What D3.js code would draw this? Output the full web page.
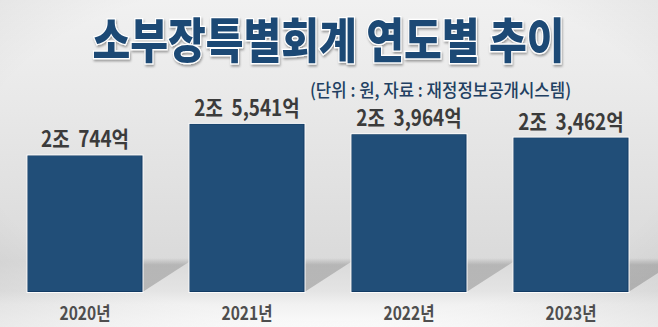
<!DOCTYPE html>
<html>
<head>
<meta charset="utf-8">
<script src="https://cdn.jsdelivr.net/npm/d3@7"></script>
<style>
  html, body { margin: 0; padding: 0; background: #fff; }
  svg { display: block; }
  text { font-family: "Noto Sans CJK KR", "Noto Sans", sans-serif; }
</style>
</head>
<body>
<svg id="chart"></svg>
<script>
// data (단위: 억원)
var years = ["2020년", "2021년", "2022년", "2023년"],
  values = [20744, 25541, 23964, 23462],
  title = "소부장특별회계 연도별 추이",
  subtitle = "(단위 : 원, 자료 : 재정정보공개시스템)";

var width = 658, height = 327;
var svg = d3.select("#chart").attr("width", width).attr("height", height);
var defs = svg.append("defs");

// background: grey wall, lighter floor
var bg = defs.append("linearGradient").attr("id", "bg")
  .attr("x1", 0).attr("y1", 0).attr("x2", 0).attr("y2", 1);
[[0, "#f1f1f1"], [0.3, "#e9e9e9"], [0.6, "#e0e0e0"], [0.8, "#dadada"],
 [0.89, "#e4e4e4"], [0.93, "#f1f1f1"], [1, "#fbfbfb"]].forEach(function(s) {
  bg.append("stop").attr("offset", s[0]).attr("stop-color", s[1]);
});
svg.append("rect").attr("width", width).attr("height", height).attr("fill", "url(#bg)");

// soft vignette on the edges
var vig = defs.append("radialGradient").attr("id", "vig")
  .attr("cx", 0.5).attr("cy", 0.45).attr("r", 0.75);
vig.append("stop").attr("offset", 0.7).attr("stop-color", "#000").attr("stop-opacity", 0);
vig.append("stop").attr("offset", 1).attr("stop-color", "#000").attr("stop-opacity", 0.07);
svg.append("rect").attr("width", width).attr("height", height).attr("fill", "url(#vig)");

var shade = defs.append("linearGradient").attr("id", "shade")
  .attr("x1", 0).attr("y1", 0).attr("x2", 0).attr("y2", 1);
shade.append("stop").attr("offset", 0).attr("stop-color", "#000").attr("stop-opacity", 0);
shade.append("stop").attr("offset", 0.2).attr("stop-color", "#000").attr("stop-opacity", 0.17);
shade.append("stop").attr("offset", 1).attr("stop-color", "#000").attr("stop-opacity", 0.2);

var glow = defs.append("filter").attr("id", "tshadow")
  .attr("filterUnits", "userSpaceOnUse")
  .attr("x", -400).attr("y", -60).attr("width", 800).attr("height", 100);
glow.append("feDropShadow").attr("dx", 1).attr("dy", 2).attr("stdDeviation", 1.2)
  .attr("flood-color", "#000").attr("flood-opacity", 0.35);

// scales
var x = d3.scaleBand().domain(years).range([4, 652])
  .paddingInner(0.29).paddingOuter(0.145);
var y = d3.scaleLinear().domain([0, 26000]).range([292, 120.9]);

function label(v) {
  var jo = Math.floor(v / 10000), eok = v % 10000;
  return jo + "조  " + d3.format(",")(eok) + "억";
}

// shadows behind bars
svg.selectAll(".shadow").data(years).join("path")
  .attr("class", "shadow")
  .attr("fill", "url(#shade)")
  .attr("d", function(d) {
    var r = x(d) + x.bandwidth(), b = y(0);
    return "M" + r + "," + (b - 34) + "L" + (r + 48) + "," + (b - 34) +
      "L" + (r + 48) + "," + (b - 31) + "L" + r + "," + b + "Z";
  });

// bars
var bars = svg.selectAll(".bar").data(values).join("g").attr("class", "bar");
bars.append("rect")
  .attr("x", function(d, i) { return x(years[i]) - 1; })
  .attr("y", function(d) { return y(d) - 1; })
  .attr("width", x.bandwidth() + 2)
  .attr("height", function(d) { return y(0) - y(d) + 2; })
  .attr("fill", "#fbfbfb");
bars.append("rect")
  .attr("x", function(d, i) { return x(years[i]); })
  .attr("y", function(d) { return y(d); })
  .attr("width", x.bandwidth())
  .attr("height", function(d) { return y(0) - y(d); })
  .attr("fill", "#123a63");
bars.append("rect")
  .attr("x", function(d, i) { return x(years[i]) + 0.5; })
  .attr("y", function(d) { return y(d) + 0.5; })
  .attr("width", x.bandwidth() - 1.5)
  .attr("height", function(d) { return y(0) - y(d) - 1.5; })
  .attr("fill", "#214e78");

// value labels
svg.selectAll(".val").data(values).join("g")
  .attr("class", "val")
  .attr("transform", function(d, i) {
    return "translate(" + (x(years[i]) + x.bandwidth() / 2) + "," + (y(d) - 8) + ") scale(0.86,1)";
  })
  .append("text")
  .attr("text-anchor", "middle")
  .attr("font-size", 22)
  .attr("font-weight", 700)
  .attr("fill", "#3b3b3b")
  .style("white-space", "pre")
  .text(label);

// year labels
svg.selectAll(".year").data(years).join("g")
  .attr("class", "year")
  .attr("transform", function(d) {
    return "translate(" + (x(d) + x.bandwidth() / 2) + ",319.5) scale(0.84,1)";
  })
  .append("text")
  .attr("text-anchor", "middle")
  .attr("font-size", 18.5)
  .attr("font-weight", 600)
  .attr("fill", "#4e4e4e")
  .text(function(d) { return d; });

// title
svg.append("g").attr("transform", "translate(328.5,58) scale(0.856,1)")
  .append("text")
  .attr("text-anchor", "middle")
  .attr("font-size", 48)
  .attr("font-weight", 900)
  .attr("fill", "#1f4a74")
  .attr("stroke", "#ffffff")
  .attr("stroke-width", 2.5)
  .attr("paint-order", "stroke")
  .attr("filter", "url(#tshadow)")
  .text(title);

svg.append("g").attr("transform", "translate(440.5,97) scale(0.93,1)")
  .append("text")
  .attr("text-anchor", "middle")
  .attr("font-size", 18)
  .attr("font-weight", 500)
  .attr("fill", "#213f62")
  .text(subtitle);
</script>
</body>
</html>
